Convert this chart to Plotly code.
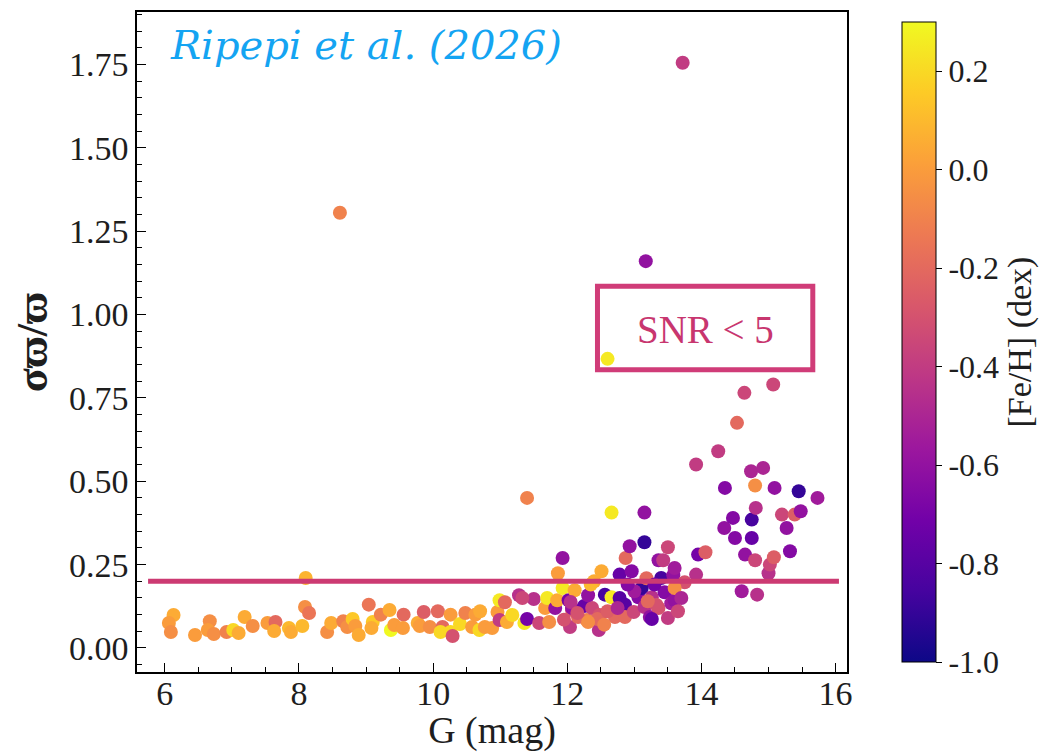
import plotly.graph_objects as go

# ---- data ----
G_mag = [
    6.13, 6.06, 6.09, 6.45, 6.67, 6.64, 6.73, 6.92, 7.02, 7.10,
    7.19, 7.31, 7.53, 7.65, 7.63, 7.85, 7.88, 8.05, 8.10, 8.09,
    8.15, 8.42, 8.48, 8.61, 8.66, 8.72, 8.80, 8.84, 8.89, 9.04,
    9.10, 9.08, 9.22, 9.35, 9.37, 9.42, 9.56, 9.55, 9.77, 9.86,
    9.80, 9.95, 10.07, 10.14, 10.11, 10.26, 10.26, 10.29, 10.40, 10.48,
    10.58, 10.63, 10.69, 10.70, 10.77, 10.88, 10.96, 10.99, 10.99, 11.07,
    11.10, 11.18, 11.28, 11.36, 11.40, 11.40, 11.50, 11.58, 11.67, 11.70,
    11.73, 11.82, 11.85, 11.86, 11.93, 11.93, 12.02, 12.04, 12.07, 12.07,
    12.11, 12.25, 12.29, 12.37, 12.40, 12.47, 12.48, 12.51, 12.56, 12.60,
    12.66, 12.66, 12.71, 12.78, 12.78, 12.86, 12.86, 12.87, 12.93, 12.96,
    12.99, 13.06, 13.11, 13.15, 13.15, 13.15, 13.17, 13.18, 13.23, 13.26,
    13.36, 13.36, 13.40, 13.43, 13.45, 13.50, 13.55, 13.58, 13.60, 13.60,
    13.72, 13.75, 13.92, 13.92, 13.95, 14.06, 14.25, 14.34, 14.35, 14.47,
    14.50, 14.53, 14.60, 14.64, 14.65, 14.74, 14.75, 14.75, 14.80, 14.80,
    14.81, 14.83, 14.92, 15.00, 15.02, 15.07, 15.08, 15.09, 15.20, 15.27,
    15.32, 15.39, 15.45, 15.48, 15.73,
    11.33, 12.05, 12.31, 13.60, 13.33, 13.26, 12.45, 12.16, 12.31,
    12.15, 12.60, 12.75, 13.00, 13.30, 13.50, 13.70, 12.90, 13.20, 13.65,
    12.35, 11.95, 12.55,
]
sigma_ratio = [
    0.099, 0.075, 0.048, 0.039, 0.080, 0.054, 0.042, 0.048, 0.054, 0.045,
    0.093, 0.066, 0.075, 0.078, 0.051, 0.060, 0.048, 0.066, 0.210, 0.123,
    0.105, 0.048, 0.075, 1.305, 0.080, 0.063, 0.087, 0.066, 0.039, 0.130,
    0.078, 0.060, 0.100, 0.114, 0.054, 0.069, 0.100, 0.060, 0.075, 0.108,
    0.066, 0.063, 0.110, 0.063, 0.048, 0.100, 0.048, 0.036, 0.072, 0.105,
    0.063, 0.100, 0.054, 0.110, 0.063, 0.060, 0.108, 0.143, 0.084, 0.137,
    0.078, 0.099, 0.158, 0.075, 0.087, 0.450, 0.147, 0.075, 0.120, 0.150,
    0.078, 0.120, 0.143, 0.224, 0.270, 0.180, 0.143, 0.063, 0.114, 0.120,
    0.173, 0.126, 0.084, 0.120, 0.200, 0.054, 0.099, 0.230, 0.160, 0.867,
    0.406, 0.152, 0.093, 0.220, 0.150, 0.130, 0.093, 0.270, 0.305, 0.230,
    0.108, 0.152, 0.180, 0.406, 0.317, 0.123, 1.160, 0.209, 0.093, 0.152,
    0.263, 0.120, 0.210, 0.263, 0.167, 0.302, 0.134, 0.218, 0.240, 0.143,
    1.755, 0.197, 0.220, 0.550, 0.280, 0.287, 0.590, 0.360, 0.480, 0.390,
    0.330, 0.675, 0.170, 0.765, 0.280, 0.530, 0.385, 0.330, 0.487, 0.263,
    0.420, 0.160, 0.540, 0.224, 0.250, 0.790, 0.272, 0.480, 0.400, 0.360,
    0.290, 0.400, 0.470, 0.410, 0.450,
    0.150, 0.138, 0.158, 0.180, 0.129, 0.087, 0.087, 0.093, 0.078,
    0.105, 0.110, 0.120, 0.170, 0.190, 0.090, 0.150, 0.190, 0.140, 0.110,
    0.190, 0.085, 0.070,
]
fe_h = [
    0.05, 0.00, -0.05, 0.00, -0.05, 0.00, -0.05, -0.10, 0.20, 0.05,
    0.05, -0.05, 0.00, -0.20, 0.05, 0.10, 0.05, 0.10, 0.08, -0.05,
    -0.15, -0.05, 0.05, -0.10, -0.10, -0.05, 0.15, 0.00, 0.05, -0.15,
    0.15, 0.05, -0.10, 0.05, 0.30, 0.00, -0.20, 0.00, 0.05, -0.25,
    0.00, -0.05, -0.20, -0.20, 0.20, 0.00, 0.20, -0.30, 0.20, -0.10,
    0.00, 0.00, 0.20, 0.05, 0.00, 0.00, 0.00, 0.25, -0.40, -0.20,
    0.05, 0.20, -0.45, 0.25, -0.70, -0.10, -0.45, -0.35, 0.00, 0.25,
    -0.05, -0.60, 0.05, 0.00, -0.60, 0.25, -0.70, -0.40, -0.25, -0.60,
    0.05, -0.75, -0.10, -0.35, 0.05, -0.45, -0.30, 0.05, -0.85, 0.25,
    0.25, 0.25, -0.20, -0.75, -0.80, -0.80, -0.20, -0.20, -0.60, -0.65,
    -0.35, -0.65, -0.90, -0.60, -0.90, -0.45, -0.60, -0.20, -0.60, -0.45,
    -0.60, -0.30, -0.85, -0.40, -0.65, -0.35, -0.55, -0.60, -0.55, -0.60,
    -0.40, -0.30, -0.45, -0.40, -0.70, -0.25, -0.40, -0.60, -0.65, -0.65,
    -0.65, -0.20, -0.55, -0.35, -0.60, -0.50, -0.85, -0.75, -0.05, -0.35,
    -0.45, -0.45, -0.50, -0.45, -0.35, -0.35, -0.25, -0.60, -0.35, -0.60,
    -0.65, -0.25, -0.90, -0.60, -0.55,
    -0.35, -0.45, -0.60, -0.05, -0.30, -0.75, -0.20, -0.20, -0.05,
    -0.30, -0.25, -0.50, -0.55, -0.70, -0.40, -0.50, -0.65, -0.20, -0.35,
    0.10, -0.30, -0.10,
]

snr_threshold = 0.2
threshold_g = [5.75, 16.05]
title_text = "Ripepi et al. (2026)"
box_text = "SNR < 5"

SERIF = "Liberation Serif"
PINK = "#cc3a72"
TXT = "#1e1e1e"

fig = go.Figure()
fig.add_trace(go.Scatter(
    x=G_mag, y=sigma_ratio, mode="markers",
    marker=dict(
        size=14, color=fe_h, colorscale="Plasma", cmin=-1.0, cmax=0.3,
        line=dict(width=0),
        colorbar=dict(
            x=1.063, xanchor="left", xref="paper",
            y=0.5, yanchor="middle", len=1.0, lenmode="fraction",
            thickness=34, outlinecolor="black", outlinewidth=1,
            tickvals=[-1.0, -0.8, -0.6, -0.4, -0.2, 0.0, 0.2],
            ticktext=["-1.0", "-0.8", "-0.6", "-0.4", "-0.2", "0.0", "0.2"],
            ticks="outside", ticklen=6, tickcolor="black",
            tickfont=dict(family=SERIF, size=32, color=TXT),
            title=dict(text="[Fe/H] (dex)", side="right",
                       font=dict(family=SERIF, size=34, color=TXT)),
        ),
    ),
    showlegend=False, hoverinfo="skip",
))
fig.add_trace(go.Scatter(
    x=threshold_g, y=[snr_threshold, snr_threshold], mode="lines",
    line=dict(color=PINK, width=5), showlegend=False, hoverinfo="skip",
))

fig.add_shape(type="rect", xref="x", yref="y", x0=12.45, x1=15.66, y0=0.834, y1=1.085,
              line=dict(color="#d03c78", width=5), layer="below")
fig.add_annotation(x=14.055, y=0.955, xref="x", yref="y", text=box_text, showarrow=False,
                   font=dict(family=SERIF, size=39, color="#c8366f"))
fig.add_annotation(x=0.043, y=0.95, xref="paper", yref="paper", xanchor="left", yanchor="middle",
                   text="<i>" + title_text + "</i>", showarrow=False,
                   font=dict(family="DejaVu Serif", size=40, color="#14a4f2"))

axis_common = dict(
    showline=True, linecolor="black", linewidth=1.5, mirror=True,
    ticks="inside", ticklen=9, tickwidth=1.3, tickcolor="black",
    showgrid=False, zeroline=False,
    tickfont=dict(family=SERIF, size=34, color=TXT),
)
fig.update_xaxes(
    range=[5.585, 16.17], tickvals=[6, 8, 10, 12, 14, 16],
    minor=dict(ticks="inside", ticklen=5, tickwidth=1, tickcolor="black", dtick=0.5, tick0=0),
    ticklabelstandoff=-10,
    title=dict(text="G (mag)", font=dict(family=SERIF, size=38, color=TXT), standoff=2),
    **axis_common,
)
fig.update_yaxes(
    range=[-0.072, 1.907], tickvals=[0, 0.25, 0.5, 0.75, 1.0, 1.25, 1.5, 1.75],
    ticktext=["0.00", "0.25", "0.50", "0.75", "1.00", "1.25", "1.50", "1.75"],
    minor=dict(ticks="inside", ticklen=5, tickwidth=1, tickcolor="black", dtick=0.05, tick0=0),
    title=dict(text="<b>σϖ/ϖ</b>", font=dict(family=SERIF, size=44, color=TXT), standoff=8),
    **axis_common,
)
fig.update_layout(
    width=1043, height=744,
    margin=dict(l=129, r=198, t=2, b=80),
    plot_bgcolor="white", paper_bgcolor="white",
)
fig.write_html("out.html")
